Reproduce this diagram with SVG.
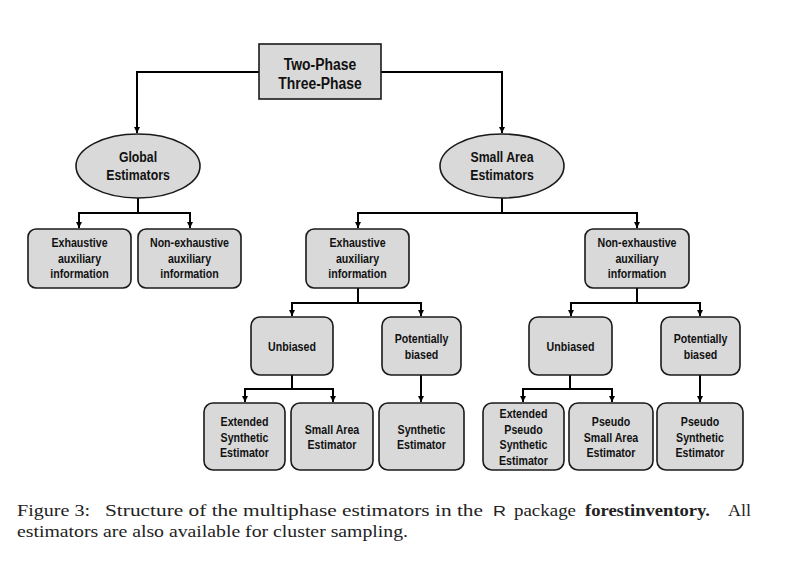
<svg xmlns="http://www.w3.org/2000/svg" width="798" height="566" viewBox="0 0 798 566">
  <style>
    .box { fill: #d9d9d9; stroke: #1a1a1a; stroke-width: 1.6; }
    .lbl { font-family: "Liberation Sans", Arial, sans-serif; font-weight: bold; fill: #111; text-anchor: middle; }
    .s { font-size: 12.5px; }
    .m { font-size: 15px; }
    .l { font-size: 17px; }
    .wire { fill: none; stroke: #000; stroke-width: 2; }
    .cap { font-family: "Liberation Serif", "Times New Roman", serif; font-size: 17px; fill: #222; }
  </style>
  <defs>
    <marker id="arr" viewBox="0 0 10 10" refX="10" refY="5" markerWidth="6" markerHeight="6" markerUnits="userSpaceOnUse" orient="auto">
      <path d="M0,0 L10,5 L0,10 z" fill="#000"/>
    </marker>
  </defs>

  <rect width="798" height="566" fill="#fff"/>

  <!-- connectors -->
  <g id="connectors" class="wire">
    <path d="M259,72 H137 V133" marker-end="url(#arr)"/>
    <path d="M381,72 H502 V133" marker-end="url(#arr)"/>
    <path d="M138,198 V213 H79 V228" marker-end="url(#arr)"/>
    <path d="M138,213 H190 V228" marker-end="url(#arr)"/>
    <path d="M502,198 V213 H358 V228" marker-end="url(#arr)"/>
    <path d="M502,213 H637 V228" marker-end="url(#arr)"/>
    <path d="M358,288 V303 H292 V316" marker-end="url(#arr)"/>
    <path d="M358,303 H421 V316" marker-end="url(#arr)"/>
    <path d="M637,288 V303 H571 V316" marker-end="url(#arr)"/>
    <path d="M637,303 H700 V316" marker-end="url(#arr)"/>
    <path d="M292,375 V389 H245 V402" marker-end="url(#arr)"/>
    <path d="M292,389 H333 V402" marker-end="url(#arr)"/>
    <path d="M421,375 V402" marker-end="url(#arr)"/>
    <path d="M570,375 V389 H523 V402" marker-end="url(#arr)"/>
    <path d="M570,389 H612 V402" marker-end="url(#arr)"/>
    <path d="M700,375 V402" marker-end="url(#arr)"/>
  </g>

  <!-- root -->
  <g id="root">
    <rect class="box" x="259" y="44" width="122" height="55"/>
    <g transform="translate(320 0) scale(0.82 1)">
      <text class="lbl l" x="0" y="70">Two-Phase</text>
      <text class="lbl l" x="0" y="89">Three-Phase</text>
    </g>
  </g>

  <!-- second level -->
  <g id="global">
    <ellipse class="box" cx="138" cy="166" rx="62" ry="32"/>
    <g transform="translate(138 0) scale(0.82 1)">
      <text class="lbl m" x="0" y="162">Global</text>
      <text class="lbl m" x="0" y="180">Estimators</text>
    </g>
  </g>
  <g id="smallarea">
    <ellipse class="box" cx="502" cy="166" rx="62" ry="32"/>
    <g transform="translate(502 0) scale(0.82 1)">
      <text class="lbl m" x="0" y="162">Small Area</text>
      <text class="lbl m" x="0" y="180">Estimators</text>
    </g>
  </g>

  <!-- auxiliary information -->
  <g id="global-exh">
    <rect class="box" x="28" y="229" width="103" height="59" rx="8"/>
    <g transform="translate(79.5 0) scale(0.85 1)">
      <text class="lbl s" x="0" y="247">Exhaustive</text>
      <text class="lbl s" x="0" y="263">auxiliary</text>
      <text class="lbl s" x="0" y="278">information</text>
    </g>
  </g>
  <g id="global-nonexh">
    <rect class="box" x="138" y="229" width="103" height="59" rx="8"/>
    <g transform="translate(189.5 0) scale(0.85 1)">
      <text class="lbl s" x="0" y="247">Non-exhaustive</text>
      <text class="lbl s" x="0" y="263">auxiliary</text>
      <text class="lbl s" x="0" y="278">information</text>
    </g>
  </g>
  <g id="sa-exh">
    <rect class="box" x="306" y="229" width="103" height="59" rx="8"/>
    <g transform="translate(357.5 0) scale(0.85 1)">
      <text class="lbl s" x="0" y="247">Exhaustive</text>
      <text class="lbl s" x="0" y="263">auxiliary</text>
      <text class="lbl s" x="0" y="278">information</text>
    </g>
  </g>
  <g id="sa-nonexh">
    <rect class="box" x="585" y="229" width="104" height="59" rx="8"/>
    <g transform="translate(637 0) scale(0.85 1)">
      <text class="lbl s" x="0" y="247">Non-exhaustive</text>
      <text class="lbl s" x="0" y="263">auxiliary</text>
      <text class="lbl s" x="0" y="278">information</text>
    </g>
  </g>

  <!-- bias level -->
  <g id="exh-unbiased">
    <rect class="box" x="251" y="317" width="82" height="58" rx="9"/>
    <g transform="translate(292 0) scale(0.85 1)">
      <text class="lbl s" x="0" y="351">Unbiased</text>
    </g>
  </g>
  <g id="exh-biased">
    <rect class="box" x="382" y="317" width="79" height="58" rx="9"/>
    <g transform="translate(421.5 0) scale(0.85 1)">
      <text class="lbl s" x="0" y="343">Potentially</text>
      <text class="lbl s" x="0" y="359">biased</text>
    </g>
  </g>
  <g id="nonexh-unbiased">
    <rect class="box" x="529" y="317" width="83" height="58" rx="9"/>
    <g transform="translate(570.5 0) scale(0.85 1)">
      <text class="lbl s" x="0" y="351">Unbiased</text>
    </g>
  </g>
  <g id="nonexh-biased">
    <rect class="box" x="661" y="317" width="79" height="58" rx="9"/>
    <g transform="translate(700.5 0) scale(0.85 1)">
      <text class="lbl s" x="0" y="343">Potentially</text>
      <text class="lbl s" x="0" y="359">biased</text>
    </g>
  </g>

  <!-- estimators -->
  <g id="ext-synth">
    <rect class="box" x="204" y="403" width="81" height="67" rx="9"/>
    <g transform="translate(244.5 0) scale(0.85 1)">
      <text class="lbl s" x="0" y="426">Extended</text>
      <text class="lbl s" x="0" y="442">Synthetic</text>
      <text class="lbl s" x="0" y="457">Estimator</text>
    </g>
  </g>
  <g id="sae">
    <rect class="box" x="291" y="403" width="82" height="67" rx="9"/>
    <g transform="translate(332 0) scale(0.85 1)">
      <text class="lbl s" x="0" y="434">Small Area</text>
      <text class="lbl s" x="0" y="449">Estimator</text>
    </g>
  </g>
  <g id="synth">
    <rect class="box" x="379" y="403" width="85" height="67" rx="9"/>
    <g transform="translate(421.5 0) scale(0.85 1)">
      <text class="lbl s" x="0" y="434">Synthetic</text>
      <text class="lbl s" x="0" y="449">Estimator</text>
    </g>
  </g>
  <g id="ext-psynth">
    <rect class="box" x="483" y="403" width="81" height="67" rx="9"/>
    <g transform="translate(523.5 0) scale(0.85 1)">
      <text class="lbl s" x="0" y="418">Extended</text>
      <text class="lbl s" x="0" y="434">Pseudo</text>
      <text class="lbl s" x="0" y="449">Synthetic</text>
      <text class="lbl s" x="0" y="465">Estimator</text>
    </g>
  </g>
  <g id="psae">
    <rect class="box" x="569" y="403" width="84" height="67" rx="9"/>
    <g transform="translate(611 0) scale(0.85 1)">
      <text class="lbl s" x="0" y="426">Pseudo</text>
      <text class="lbl s" x="0" y="442">Small Area</text>
      <text class="lbl s" x="0" y="457">Estimator</text>
    </g>
  </g>
  <g id="psynth">
    <rect class="box" x="657" y="403" width="86" height="67" rx="9"/>
    <g transform="translate(700 0) scale(0.85 1)">
      <text class="lbl s" x="0" y="426">Pseudo</text>
      <text class="lbl s" x="0" y="442">Synthetic</text>
      <text class="lbl s" x="0" y="457">Estimator</text>
    </g>
  </g>

  <!-- caption -->
  <g id="caption">
    <text class="cap" x="17" y="516" textLength="73" lengthAdjust="spacingAndGlyphs">Figure 3:</text>
    <text class="cap" x="105" y="516" textLength="378" lengthAdjust="spacingAndGlyphs">Structure of the multiphase estimators in the</text>
    <text class="cap" x="493" y="516" style="font-family: 'Liberation Sans', Arial, sans-serif; font-size: 15.5px;" textLength="13" lengthAdjust="spacingAndGlyphs">R</text>
    <text class="cap" x="514" y="516" textLength="62" lengthAdjust="spacingAndGlyphs">package</text>
    <text class="cap" x="585" y="516" font-weight="bold" textLength="125" lengthAdjust="spacingAndGlyphs">forestinventory.</text>
    <text class="cap" x="728" y="516" textLength="23" lengthAdjust="spacingAndGlyphs">All</text>
    <text class="cap" x="17" y="537" textLength="391" lengthAdjust="spacingAndGlyphs">estimators are also available for cluster sampling.</text>
  </g>
</svg>
